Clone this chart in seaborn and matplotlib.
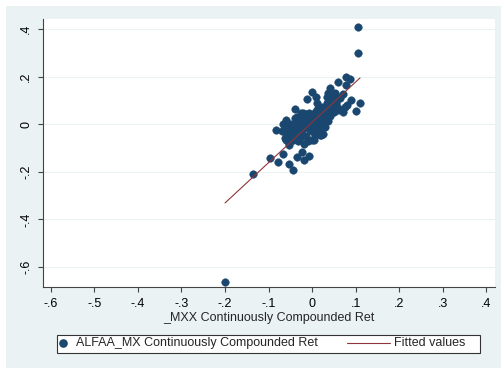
import numpy as np
import pandas as pd
import matplotlib
matplotlib.use("Agg")
import matplotlib.pyplot as plt
import seaborn as sns
from matplotlib.patches import Rectangle
from matplotlib.lines import Line2D

# market returns (x) and stock returns (y)
mxx = [0.106, 0.105, 0.078, 0.086, 0.060, 0.077, 0.041, 0.000, 0.009, -0.012,
       0.110, 0.101, 0.076, -0.083, -0.135, -0.096, -0.079, -0.066, -0.052, -0.044,
       -0.034, -0.023, -0.007, -0.018, -0.018, -0.054, -0.062, -0.057, -0.041, -0.040,
       -0.060, 0.034, 0.037, 0.049, 0.060, -0.200,
       -0.060, -0.055, -0.050, -0.048, -0.045, -0.042, -0.040, -0.038, -0.035, -0.033,
       -0.030, -0.030, -0.028, -0.025, -0.025, -0.022, -0.020, -0.020, -0.018, -0.015,
       -0.015, -0.012, -0.010, -0.010, -0.008, -0.005, -0.005, -0.003, 0.000, 0.000,
       0.002, 0.004, 0.005, 0.006, 0.008, 0.010, 0.010, 0.012, 0.014, 0.015,
       0.017, 0.018, 0.020, 0.022, 0.024, 0.025, 0.027, 0.030, 0.030, 0.032,
       0.035, 0.036, 0.038, 0.040, 0.042, 0.045, 0.047, 0.050, 0.052, 0.055,
       0.058, 0.060, 0.065, 0.070, -0.066, -0.062, -0.070, -0.027, -0.010, 0.005,
       0.020, 0.025, -0.035, 0.012, 0.045, 0.055, 0.068, 0.080, 0.090, 0.072,
       -0.053, 0.000, 0.018]
alfaa = [0.410, 0.300, 0.200, 0.190, 0.176, 0.163, 0.152, 0.135, 0.113, 0.105,
         0.087, 0.054, 0.073, -0.025, -0.208, -0.140, -0.159, -0.127, -0.169, -0.191,
         -0.138, -0.117, -0.135, -0.149, -0.084, -0.089, -0.056, -0.051, -0.050, 0.062,
         0.017, 0.115, 0.130, 0.066, 0.059, -0.662,
         -0.066, -0.023, -0.050, 0.001, -0.067, -0.025, 0.026, -0.033, -0.001, -0.070,
         0.022, -0.038, -0.007, 0.045, -0.045, 0.017, -0.022, 0.048, 0.009, -0.049,
         0.041, -0.007, 0.024, -0.066, 0.045, -0.023, 0.007, 0.038, -0.030, 0.020,
         0.041, -0.008, 0.033, -0.046, 0.005, 0.056, -0.024, 0.027, 0.068, -0.001,
         0.050, -0.029, 0.022, 0.073, -0.006, 0.045, 0.016, 0.068, -0.012, 0.039,
         0.091, 0.012, 0.063, 0.034, 0.115, 0.057, 0.088, 0.050, 0.131, 0.083,
         0.115, 0.066, 0.109, 0.125, 0.000, -0.010, -0.030, -0.060, -0.070, -0.065,
         -0.045, -0.040, 0.030, 0.090, 0.120, 0.095, 0.060, 0.080, 0.100, 0.050,
         -0.080, -0.068, -0.046]

x_ticks = [-0.6, -0.5, -0.4, -0.3, -0.2, -0.1, 0.0, 0.1, 0.2, 0.3, 0.4]
x_labels = ["-.6", "-.5", "-.4", "-.3", "-.2", "-.1", "0", ".1", ".2", ".3", ".4"]
y_ticks = [-0.6, -0.4, -0.2, 0.0, 0.2, 0.4]
y_labels = ["-.6", "-.4", "-.2", "0", ".2", ".4"]
legend_labels = ["ALFAA_MX Continuously Compounded Ret", "Fitted values"]

df = pd.DataFrame({"mxx": mxx, "alfaa": alfaa})
slope, intercept = np.polyfit(df["mxx"], df["alfaa"], 1)
xs = np.array([df["mxx"].min(), df["mxx"].max()])
fit = pd.DataFrame({"mxx": xs, "fitted": intercept + slope * xs})

sns.set_style("white")
plt.rcParams["font.family"] = ["Liberation Sans", "DejaVu Sans"]

BG = "#EAF2F3"
NAVY = "#1A476F"
MAROON = "#90353B"
W, H = 502, 368

fig = plt.figure(figsize=(W / 100, H / 100), dpi=100, facecolor="white")
fig.patches.append(Rectangle((6 / W, 0), 1 - 6 / W, 1 - 6 / H,
                             transform=fig.transFigure, facecolor=BG,
                             edgecolor="none", zorder=-10))
ax = fig.add_axes([43 / W, 1 - 287 / H, (495 - 43) / W, (287 - 19) / H])
ax.set_facecolor("white")

sns.scatterplot(data=df, x="mxx", y="alfaa", ax=ax, color=NAVY, s=30,
                edgecolor=NAVY, linewidth=0.3, zorder=3)
sns.lineplot(data=fit, x="mxx", y="fitted", ax=ax, color=MAROON, lw=0.8, zorder=4)

ax.set_xlim(-0.618, 0.42)
ax.set_ylim(-0.684, 0.442)
ax.set_xticks(x_ticks)
ax.set_xticklabels(x_labels, fontsize=9)
ax.set_yticks(y_ticks)
ax.set_yticklabels(y_labels, fontsize=9, rotation=90, va="center")
ax.grid(True, axis="y", color=BG, lw=0.8)
ax.grid(False, axis="x")
for s in ["top", "right"]:
    ax.spines[s].set_visible(False)
for s in ["left", "bottom"]:
    ax.spines[s].set_color("#444444")
    ax.spines[s].set_linewidth(0.8)
ax.tick_params(axis="both", direction="out", length=3.8, width=0.8, color="#444444",
               left=True, bottom=True, pad=4, labelcolor="black")
ax.set_xlabel("_MXX Continuously Compounded Ret", fontsize=9, labelpad=1.5)
ax.set_ylabel("")

# legend drawn by hand (Stata layout)
fig.patches.append(Rectangle((57 / W, 1 - 353 / H), (480 - 57) / W, 18 / H,
                             transform=fig.transFigure, facecolor="white",
                             edgecolor="#333333", linewidth=0.8, zorder=5))
yl = 1 - 343 / H
fig.add_artist(Line2D([63.5 / W], [yl], marker="o", color=NAVY, markersize=5.2,
                      transform=fig.transFigure, zorder=6))
fig.text(76 / W, yl, legend_labels[0], fontsize=9, va="center", ha="left", zorder=6)
fig.add_artist(Line2D([347 / W, 390 / W], [yl, yl], color=MAROON, lw=0.8,
                      transform=fig.transFigure, zorder=6))
fig.text(394 / W, yl, legend_labels[1], fontsize=9, va="center", ha="left", zorder=6)

fig.savefig("out.png", dpi=100, facecolor=fig.get_facecolor())
